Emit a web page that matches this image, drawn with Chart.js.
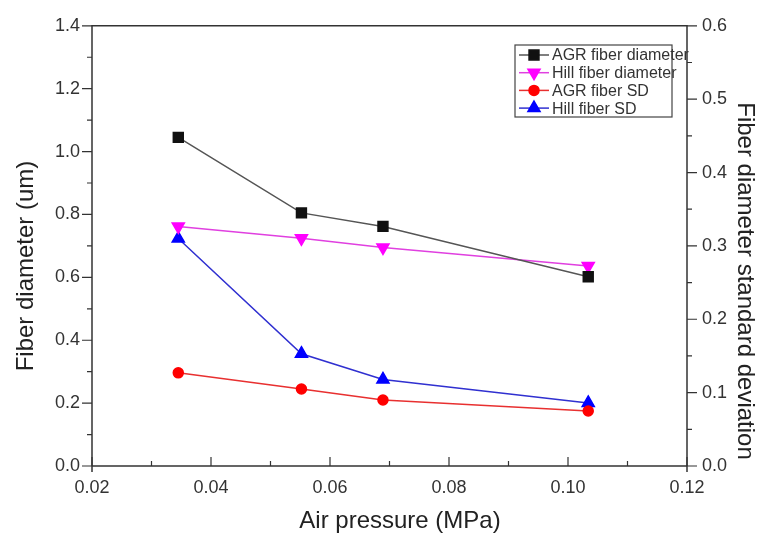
<!DOCTYPE html>
<html>
<head>
<meta charset="utf-8">
<script src="https://cdn.jsdelivr.net/npm/chart.js@4/dist/chart.umd.min.js"></script>
<style>
  html, body { margin: 0; padding: 0; background: #fff; }
  #wrap { width: 761px; height: 536px; }
</style>
</head>
<body>
<div id="wrap"><canvas id="fiber_chart" width="761" height="536"></canvas></div>
<script>
// air pressure (MPa) = 5, 8, 10, 15 psi
const pressure = [0.0345, 0.0552, 0.0689, 0.1034];
const agrDiameter = [1.045, 0.805, 0.762, 0.602];
const hillDiameter = [0.762, 0.724, 0.695, 0.636];
const agrSD = [0.127, 0.105, 0.090, 0.075];
const hillSD = [0.310, 0.153, 0.118, 0.086];

const xTicks = [0.02, 0.04, 0.06, 0.08, 0.10, 0.12];
const leftTicks = [0.0, 0.2, 0.4, 0.6, 0.8, 1.0, 1.2, 1.4];
const rightTicks = [0.0, 0.1, 0.2, 0.3, 0.4, 0.5, 0.6];

const xTitle = 'Air pressure (MPa)';
const leftTitle = 'Fiber diameter (um)';
const rightTitle = 'Fiber diameter standard deviation';

const axisColor = '#333';
const fontFamily = '"Liberation Sans", Arial, sans-serif';

function pts(xs, ys) {
    return xs.map(function (x, i) { return { x: x, y: ys[i] }; });
}

// frame + major/minor tick marks, drawn like the Origin plot
const framePlugin = {
    id: 'frame',
    afterDraw: function (chart) {
        const ctx = chart.ctx;
        const a = chart.chartArea;
        const sx = chart.scales.x, sl = chart.scales.y, sr = chart.scales.y2;
        ctx.save();
        ctx.strokeStyle = axisColor;
        ctx.lineWidth = 1.5;
        ctx.beginPath();
        ctx.moveTo(a.left, a.bottom + 6); ctx.lineTo(a.left, a.top);
        ctx.lineTo(a.right, a.top); ctx.lineTo(a.right, a.bottom + 6);
        ctx.moveTo(a.left, a.bottom); ctx.lineTo(a.right, a.bottom);
        ctx.stroke();

        ctx.lineWidth = 1.2;
        ctx.beginPath();
        // bottom axis, ticks pointing in
        for (let v = 0.02; v <= 0.1201; v += 0.01) {
            const px = sx.getPixelForValue(v);
            const major = Math.round(v * 100) % 2 === 0;
            ctx.moveTo(px, a.bottom);
            ctx.lineTo(px, a.bottom - (major ? 9 : 5));
        }
        // left axis, ticks pointing out
        for (let v = 0; v <= 1.4001; v += 0.1) {
            const py = sl.getPixelForValue(v);
            const major = Math.round(v * 10) % 2 === 0;
            ctx.moveTo(a.left, py);
            ctx.lineTo(a.left - (major ? 10 : 5), py);
        }
        // right axis, ticks pointing out
        for (let v = 0; v <= 0.6001; v += 0.05) {
            const py = sr.getPixelForValue(v);
            const major = Math.round(v * 100) % 10 === 0;
            ctx.moveTo(a.right, py);
            ctx.lineTo(a.right + (major ? 10 : 5), py);
        }
        ctx.stroke();

        // axis titles
        ctx.fillStyle = '#222';
        ctx.font = '24px ' + fontFamily;
        ctx.textAlign = 'center';
        ctx.textBaseline = 'middle';
        ctx.fillText(xTitle, 400, 521);
        ctx.save();
        ctx.translate(26, 266);
        ctx.rotate(-Math.PI / 2);
        ctx.fillText(leftTitle, 0, 0);
        ctx.restore();
        ctx.save();
        ctx.translate(745, 281);
        ctx.rotate(Math.PI / 2);
        ctx.fillText(rightTitle, 0, 0);
        ctx.restore();
        ctx.restore();
    }
};

// boxed legend inside the plot, top right
const legendPlugin = {
    id: 'boxLegend',
    afterDraw: function (chart) {
        const ctx = chart.ctx;
        const x0 = 515, y0 = 45, w = 157, h = 72;
        ctx.save();
        ctx.strokeStyle = '#444';
        ctx.lineWidth = 1.2;
        ctx.strokeRect(x0, y0, w, h);
        ctx.font = '16px ' + fontFamily;
        ctx.textBaseline = 'middle';
        chart.data.datasets.forEach(function (ds, i) {
            const y = y0 + 10 + i * 17.7;
            ctx.strokeStyle = ds.borderColor;
            ctx.lineWidth = 1.5;
            ctx.beginPath();
            ctx.moveTo(x0 + 4, y); ctx.lineTo(x0 + 34, y);
            ctx.stroke();
            ctx.fillStyle = ds.pointBackgroundColor;
            ctx.strokeStyle = ds.pointBorderColor;
            Chart.helpers.drawPoint(ctx, {
                pointStyle: ds.pointStyle,
                rotation: ds.pointRotation || 0,
                radius: ds.pointRadius,
                borderWidth: 1
            }, x0 + 19, y);
            ctx.fillStyle = '#333';
            ctx.fillText(ds.label, x0 + 37, y + 1);
        });
        ctx.restore();
    }
};

const tickFont = { family: fontFamily, size: 18 };

new Chart(document.getElementById('fiber_chart').getContext('2d'), {
    type: 'line',
    data: {
        datasets: [
            {
                label: 'AGR fiber diameter',
                data: pts(pressure, agrDiameter),
                yAxisID: 'y',
                borderColor: '#555',
                pointBackgroundColor: '#111',
                pointBorderColor: '#111',
                pointStyle: 'rect',
                pointRadius: 7,
                borderWidth: 1.5
            },
            {
                label: 'Hill fiber diameter',
                data: pts(pressure, hillDiameter),
                yAxisID: 'y',
                borderColor: '#e040e0',
                pointBackgroundColor: '#f0f',
                pointBorderColor: '#f0f',
                pointStyle: 'triangle',
                pointRotation: 180,
                pointRadius: 7,
                borderWidth: 1.5
            },
            {
                label: 'AGR fiber SD',
                data: pts(pressure, agrSD),
                yAxisID: 'y2',
                borderColor: '#e83030',
                pointBackgroundColor: '#f00',
                pointBorderColor: '#f00',
                pointStyle: 'circle',
                pointRadius: 5,
                borderWidth: 1.5
            },
            {
                label: 'Hill fiber SD',
                data: pts(pressure, hillSD),
                yAxisID: 'y2',
                borderColor: '#3030d0',
                pointBackgroundColor: '#00f',
                pointBorderColor: '#00f',
                pointStyle: 'triangle',
                pointRadius: 7,
                borderWidth: 1.5
            }
        ]
    },
    options: {
        responsive: false,
        animation: false,
        layout: { padding: { top: 25, left: 0, right: 0, bottom: 0 } },
        plugins: { legend: { display: false }, tooltip: { enabled: false } },
        scales: {
            x: {
                type: 'linear',
                min: 0.02, max: 0.12,
                afterFit: function (s) { s.height = 70; },
                afterBuildTicks: function (s) { s.ticks = xTicks.map(function (v) { return { value: v }; }); },
                grid: { display: false, drawTicks: false },
                border: { display: false },
                ticks: { color: '#333', font: tickFont, padding: 11, maxRotation: 0,
                    callback: function (v) { return v.toFixed(2); } }
            },
            y: {
                position: 'left',
                min: 0, max: 1.4,
                afterFit: function (s) { s.width = 92; },
                afterBuildTicks: function (s) { s.ticks = leftTicks.map(function (v) { return { value: v }; }); },
                grid: { display: false, drawTicks: false },
                border: { display: false },
                ticks: { color: '#333', font: tickFont, padding: 12,
                    callback: function (v) { return v.toFixed(1); } }
            },
            y2: {
                position: 'right',
                min: 0, max: 0.6,
                afterFit: function (s) { s.width = 74; },
                afterBuildTicks: function (s) { s.ticks = rightTicks.map(function (v) { return { value: v }; }); },
                grid: { display: false, drawTicks: false },
                border: { display: false },
                ticks: { color: '#333', font: tickFont, padding: 15,
                    callback: function (v) { return v.toFixed(1); } }
            }
        }
    },
    plugins: [framePlugin, legendPlugin]
});
</script>
</body>
</html>
